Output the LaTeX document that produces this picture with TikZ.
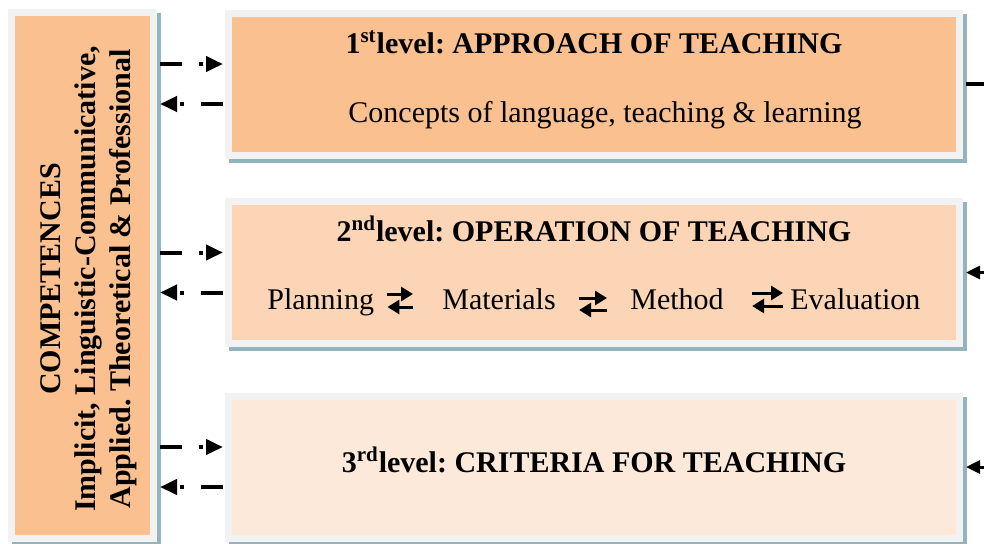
\documentclass[tikz,border=0pt]{standalone}
\usepackage{fontspec}
\setmainfont{Liberation Serif}
\usetikzlibrary{positioning, calc, arrows.meta, shadows}
\frenchspacing

\definecolor{lvlone}{HTML}{FAC090}
\definecolor{lvltwo}{HTML}{FBD5B5}
\definecolor{lvlthree}{HTML}{FDE9D9}
\definecolor{framegray}{HTML}{F2F2F2}
\definecolor{shadowblue}{HTML}{93B3BD}

\begin{document}
\begin{tikzpicture}[x=0.5pt, y=-0.5pt,
    box/.style={draw=framegray, line width=3.5pt, inner sep=0pt,
        general shadow={fill=shadowblue, draw=shadowblue, shadow xshift=2pt, shadow yshift=-2pt}},
    lvlbox/.style={box, minimum width=365.5pt, minimum height=71pt},
    txt/.style={font=\fontsize{15}{17.5}\selectfont, inner sep=0pt, anchor=base},
    ttl/.style={txt, font=\fontsize{15}{17.5}\selectfont\bfseries},
    ctxt/.style={font=\fontsize{15}{17.5}\selectfont\bfseries, inner sep=0pt, align=center},
    dashlink/.style={line width=2pt, dash pattern=on 11pt off 8.5pt on 2pt off 10pt, -{Triangle[length=8.5pt,width=7.5pt]}},
    fbline/.style={line width=1.75pt},
    fbarrow/.style={line width=1.5pt, -{Triangle[length=7pt,width=6.5pt]}},
    xch/.style={line width=1.5pt, -{Triangle[length=6pt,width=7pt]}}]
    \useasboundingbox (0,0) rectangle (984,543);

    % boxes
    \node[box, fill=lvlone, minimum width=71pt, minimum height=263pt] (comp) at (82.5,275.5) {};
    \node[lvlbox, fill=lvlone] (lvlA) at (594,84) {};
    \node[lvlbox, fill=lvltwo] (lvlB) at (594,272.5) {};
    \node[lvlbox, fill=lvlthree] (lvlC) at (594,467) {};

    % texts
    \node[ctxt, rotate=90] (compT) at (89,279) {COMPETENCES\\Implicit, Linguistic-Communicative,\\Applied. Theoretical \& Professional};
    \node[ttl] (ttlA) at (594,53) {1\textsuperscript{st}level: APPROACH OF TEACHING};
    \node[txt] (conc) at (605,122) {Concepts of language, teaching \& learning};
    \node[ttl] (ttlB) at (594,241) {2\textsuperscript{nd}level: OPERATION OF TEACHING};
    \node[txt, anchor=base west] (plan) at (267,309) {Planning};
    \node[txt, anchor=base west] (mat) at (442,309) {Materials};
    \node[txt, anchor=base west] (meth) at (630,309) {Method};
    \node[txt, anchor=base west] (eval) at (790,309) {Evaluation};
    \node[ttl] (ttlC) at (594,472) {3\textsuperscript{rd}level: CRITERIA FOR TEACHING};

    % links to the competences
    \draw[dashlink] ($(comp.east |- lvlA.west)+(1.5pt,10pt)$) -- ($(lvlA.west)+(-1pt,10pt)$);
    \draw[dashlink] ($(lvlA.west)+(-1pt,-10pt)$) -- ($(comp.east |- lvlA.west)+(1.5pt,-10pt)$);
    \draw[dashlink] ($(comp.east |- lvlB.west)+(1.5pt,10pt)$) -- ($(lvlB.west)+(-1pt,10pt)$);
    \draw[dashlink] ($(lvlB.west)+(-1pt,-10pt)$) -- ($(comp.east |- lvlB.west)+(1.5pt,-10pt)$);
    \draw[dashlink] ($(comp.east |- lvlC.west)+(1.5pt,10pt)$) -- ($(lvlC.west)+(-1pt,10pt)$);
    \draw[dashlink] ($(lvlC.west)+(-1pt,-10pt)$) -- ($(comp.east |- lvlC.west)+(1.5pt,-10pt)$);

    % exchange arrows
    \draw[xch] ([xshift=6.5pt,yshift=7.5pt]plan.base east) -- ([xshift=-14.5pt,yshift=7.5pt]mat.base west);
    \draw[xch] ([xshift=-14.5pt,yshift=1pt]mat.base west) -- ([xshift=6.5pt,yshift=1pt]plan.base east);
    \draw[xch] ([xshift=11.5pt,yshift=5.5pt]mat.base east) -- ([xshift=-11.5pt,yshift=5.5pt]meth.base west);
    \draw[xch] ([xshift=-11.5pt,yshift=-0.5pt]meth.base west) -- ([xshift=11.5pt,yshift=-0.5pt]mat.base east);
    \draw[xch] ([xshift=14pt,yshift=8pt]meth.base east) -- ([xshift=-3.5pt,yshift=8pt]eval.base west);
    \draw[xch] ([xshift=-3.5pt,yshift=1.5pt]eval.base west) -- ([xshift=14pt,yshift=1.5pt]meth.base east);

    % feedback on the right
    \coordinate (rim) at (984,0);
    \draw[fbline] ([xshift=1.5pt]lvlA.east) -- (lvlA.east -| rim);
    \draw[fbarrow] (lvlB.east -| rim) -- ([xshift=1.5pt]lvlB.east);
    \draw[fbarrow] (lvlC.east -| rim) -- ([xshift=1.5pt]lvlC.east);
\end{tikzpicture}
\end{document}
